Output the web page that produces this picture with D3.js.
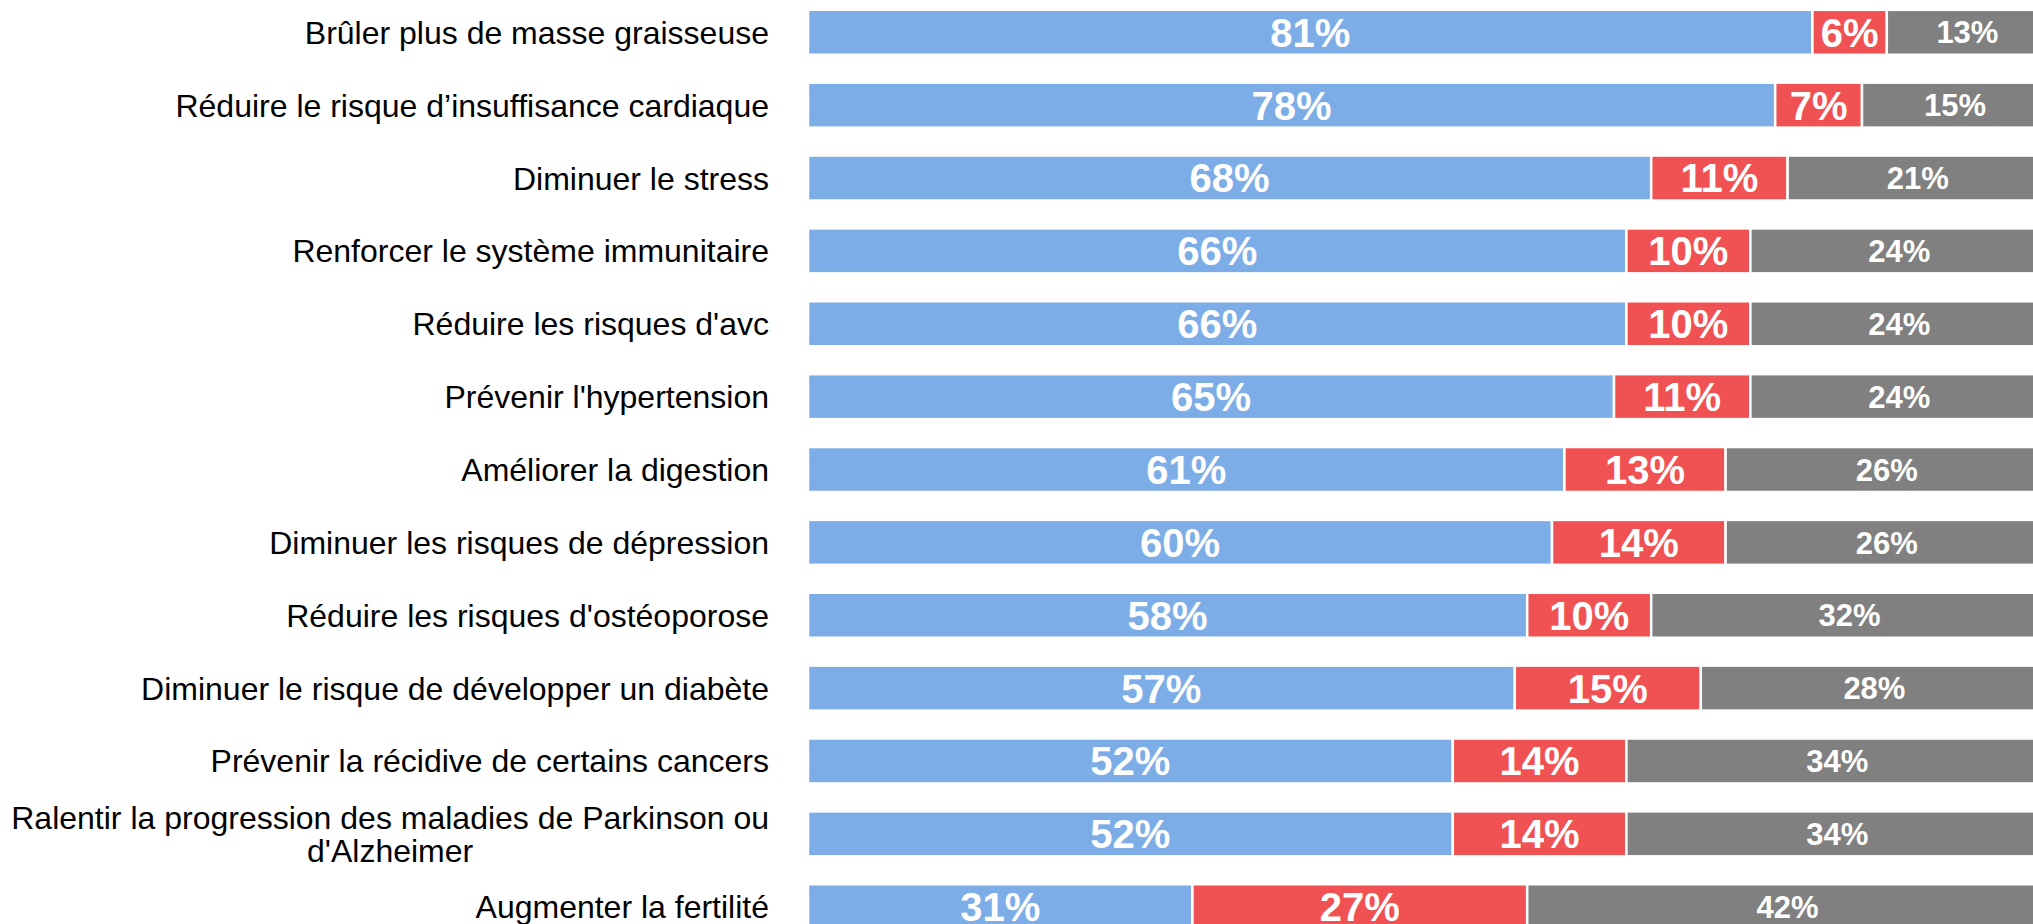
<!DOCTYPE html>
<html>
<head>
<meta charset="utf-8">
<script src="https://cdn.jsdelivr.net/npm/d3@7"></script>
<style>
  body { margin: 0; background: #fff; overflow: hidden; }
  svg { display: block; font-family: Arial, "Liberation Sans", sans-serif; }
</style>
</head>
<body>
<script>
// categories, top to bottom
const categories = [
  "Brûler plus de masse graisseuse",
  "Réduire le risque d’insuffisance cardiaque",
  "Diminuer le stress",
  "Renforcer le système immunitaire",
  "Réduire les risques d'avc",
  "Prévenir l'hypertension",
  "Améliorer la digestion",
  "Diminuer les risques de dépression",
  "Réduire les risques d'ostéoporose",
  "Diminuer le risque de développer un diabète",
  "Prévenir la récidive de certains cancers",
  "Ralentir la progression des maladies de Parkinson ou d'Alzheimer",
  "Augmenter la fertilité"
];

// series values (%)
const oui      = [81, 78, 68, 66, 66, 65, 61, 60, 58, 57, 52, 52, 31];
const non      = [6, 7, 11, 10, 10, 11, 13, 14, 10, 15, 14, 14, 27];
const nsp      = [13, 15, 21, 24, 24, 24, 26, 26, 32, 28, 34, 34, 42];
const seriesKeys = ["oui", "non", "nsp"];

const W = 2033, H = 924;
const x0 = 808, fullW = 1240;
const labelRight = 769;

const colors = { oui: "#7dade6", non: "#f05152", nsp: "#808080" };
const labelSize = { oui: 40, non: 40, nsp: 31 };

const rows = categories.map((c, i) => ({ cat: c, oui: oui[i], non: non[i], nsp: nsp[i] }));

const x = d3.scaleLinear().domain([0, 100]).range([x0, x0 + fullW]);
const y = d3.scaleBand().domain(categories).range([9.8, 929.2]).paddingInner(0.383).paddingOuter(0);

const stacked = d3.stack().keys(seriesKeys)(rows);

const svg = d3.select("body").append("svg")
  .attr("width", W).attr("height", H);

const layers = svg.append("g").selectAll("g")
  .data(stacked).join("g")
  .attr("fill", d => colors[d.key]);

layers.selectAll("rect")
  .data(d => d.map(v => Object.assign(v, { key: d.key })))
  .join("rect")
  .attr("x", d => x(d[0]))
  .attr("width", d => x(d[1]) - x(d[0]))
  .attr("y", d => y(d.data.cat))
  .attr("height", y.bandwidth())
  .attr("stroke", "#fff")
  .attr("stroke-width", 2.5);

layers.selectAll("text")
  .data(d => d)
  .join("text")
  .attr("x", d => (x(d[0]) + x(d[1])) / 2)
  .attr("y", d => y(d.data.cat) + y.bandwidth() / 2)
  .attr("dy", "0.36em")
  .attr("text-anchor", "middle")
  .attr("fill", "#fff")
  .attr("font-weight", "bold")
  .attr("font-size", d => labelSize[d.key])
  .text(d => (d[1] - d[0]) + "%");

// category labels, wrapped and right aligned
const maxW = 785;
const lineH = 32.5;
const cats = svg.append("g").selectAll("text")
  .data(categories).join("text")
  .attr("font-size", 32)
  .attr("fill", "#000");

cats.each(function(c) {
  const t = d3.select(this);
  const words = c.split(" ");
  const lines = [];
  let cur = [];
  const probe = t.append("tspan");
  words.forEach(w => {
    const test = cur.concat([w]).join(" ");
    probe.text(test);
    if (probe.node().getComputedTextLength() > maxW && cur.length) {
      lines.push(cur.join(" "));
      cur = [w];
    } else {
      cur.push(w);
    }
  });
  lines.push(cur.join(" "));
  let widest = 0;
  lines.forEach(l => {
    probe.text(l);
    widest = Math.max(widest, probe.node().getComputedTextLength());
  });
  probe.remove();
  const cy = y(c) + y.bandwidth() / 2;
  const cx = labelRight - widest / 2;
  lines.forEach((l, i) => {
    t.append("tspan")
      .attr("x", cx)
      .attr("y", cy + (i - (lines.length - 1) / 2) * lineH)
      .attr("dy", "0.36em")
      .attr("text-anchor", "middle")
      .text(l);
  });
});
</script>
</body>
</html>
